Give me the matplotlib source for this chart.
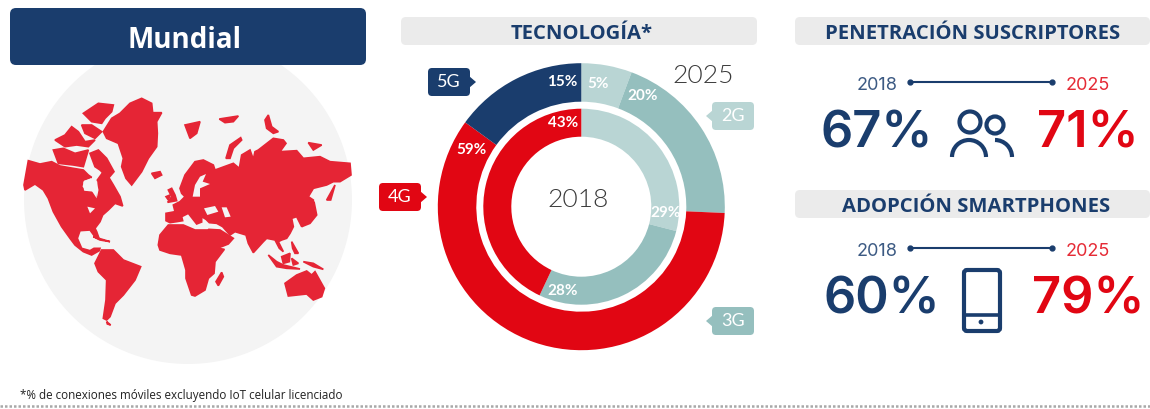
#!/usr/bin/env python3
import matplotlib
matplotlib.use('Agg')
import matplotlib.pyplot as plt
from matplotlib.patches import FancyBboxPatch, Circle, Polygon, Arc

NAVY = '#1a3d6d'
RED = '#e10613'
MAP_RED = '#e52535'
TEAL_LIGHT = '#b9d5d4'
TEAL = '#95bfbe'
PANEL = '#ebebeb'
GLOBE = '#f4f4f4'
YEAR_GREY = '#3a3a3a'

# --- data ---
tech_labels = ['2G', '3G', '4G', '5G']
share_2025 = [5.7, 20, 59.3, 15]
share_2018 = [29, 28, 43]
labels_2025 = ['5%', '20%', '59%', '15%']
labels_2018 = ['29%', '28%', '43%']
years = ['2018', '2025']
subs_pct = ['67%', '71%']
phone_pct = ['60%', '79%']

# world map outlines, traced at 3x from the picture
land = [
    # north america + central america
    [(85,482),(120,492),(155,485),(180,498),(220,505),(250,510),(265,525),(275,532),(250,540),(245,560),(255,575),
     (285,578),(292,600),(298,570),(292,540),(310,515),(325,530),(340,555),(360,590),(368,618),(345,610),(325,630),
     (308,645),(300,665),(285,685),(290,695),(298,718),(286,712),(270,690),(240,692),(232,715),(245,745),(270,752),
     (282,745),(300,745),(298,752),(275,765),(250,755),(225,735),(210,715),(185,680),(160,635),(145,595),(130,570),
     (105,552),(75,570),(72,555)],
    # greenland
    [(310,395),(335,355),(360,340),(390,310),(425,295),(455,310),(458,338),(485,338),(470,365),(472,400),(470,440),
     (445,475),(425,515),(395,555),(378,535),(365,500),(370,475),(355,430),(320,415)],
    # arctic islands
    [(250,340),(295,310),(340,315),(335,335),(315,355),(305,370),(275,365)],
    [(245,375),(275,375),(305,395),(285,415),(255,400)],
    [(165,420),(195,405),(215,380),(235,395),(255,425),(285,420),(265,440),(230,435),(195,440)],
    [(160,450),(190,445),(225,460),(265,450),(250,500),(220,495),(175,490)],
    [(270,460),(295,450),(320,475),(342,515),(325,535),(300,510),(285,500)],
    # south america
    [(285,790),(305,750),(340,750),(370,780),(422,800),(405,840),(370,885),(345,910),(330,950),(320,960),(310,955),
     (318,900),(320,840),(295,815)],
    [(320,965),(332,975),(322,972)],
    # cuba, hispaniola
    [(280,710),(330,725),(300,720)],
    # eurasia
    [(498,662),(498,640),(525,635),(520,615),(540,605),(555,590),(545,580),(540,565),(555,525),(585,485),(610,480),
     (640,495),(645,510),(700,490),(718,505),(725,465),(750,450),(760,478),(765,455),(775,450),(820,415),(850,420),
     (858,430),(840,455),(890,452),(910,475),(960,470),(990,485),(1050,490),(1053,525),(1020,545),(1000,545),(980,555),
     (940,565),(925,590),(940,600),(940,630),(930,650),(905,680),(890,650),(875,655),(880,680),(870,700),(860,715),
     (845,720),(835,725),(850,755),(838,745),(825,720),(800,715),(790,725),(760,758),(745,730),(738,705),(705,695),
     (690,705),(668,680),(650,670),(628,668),(618,658),(605,650),(605,668),(590,645),(600,668),(590,672),(565,640),
     (545,650),(548,662),(530,665),(510,668)],
    # arabia
    [(625,688),(660,690),(700,715),(685,732),(652,745),(635,715)],
    # africa
    [(475,735),(480,705),(505,675),(550,675),(585,690),(625,690),(640,725),(655,745),(673,748),(645,785),(642,820),
     (625,835),(615,870),(585,888),(575,885),(558,835),(558,810),(545,765),(510,760),(480,750)],
    # madagascar, australia, new guinea, borneo, sulawesi, sumatra+java, philippines
    [(665,817),(670,830),(655,857),(648,845)],
    [(855,850),(890,825),(920,813),(935,825),(945,815),(973,865),(965,890),(940,900),(920,882),(865,888)],
    [(910,785),(940,790),(970,808),(940,800)],
    [(845,770),(870,760),(868,785),(850,790)],
    [(875,775),(895,790),(880,795)],
    [(805,765),(830,785),(850,795),(900,807),(860,805),(830,800)],
    [(875,725),(895,760),(885,760),(878,745)],
    # japan, sakhalin, uk, ireland, iceland, svalbard, franz josef, novaya zemlya, severnaya, siberian islands
    [(905,680),(935,645),(942,605),(950,645),(930,670)],
    [(980,600),(1005,555),(992,600)],
    [(515,565),(525,585),(530,602),(503,607),(515,590),(505,570)],
    [(498,590),(510,585),(505,600)],
    [(455,520),(480,515),(485,525),(465,535)],
    [(555,375),(600,365),(590,400),(570,415)],
    [(658,357),(715,348),(700,365),(675,368)],
    [(678,475),(690,435),(722,413),(725,420),(700,445),(690,475)],
    [(795,360),(805,345),(815,380),(835,395),(820,400),(800,385)],
    [(925,428),(965,435),(940,450)],
]
water = [
    [(250,545),(272,535),(292,545),(290,595),(275,572),(252,572)],  # hudson bay
    [(262,620),(285,625),(270,640)],  # great lakes
    [(612,625),(645,618),(655,635),(622,645)],  # black sea
    [(665,622),(680,622),(692,650),(675,652)],  # caspian
    [(578,590),(585,555),(600,530),(618,522),(608,545),(630,552),(600,565),(600,590)],  # baltic
    [(500,565),(498,572),(505,560)],
]

plt.rcParams['font.family'] = 'Open Sans'
fig = plt.figure(figsize=(11.5, 4.09), dpi=100)
ax = fig.add_axes([0, 0, 1, 1])


def panel(x0, y0, x1, y1, color, pad=5):
    ax.add_patch(FancyBboxPatch((x0 + pad, y0 + pad), x1 - x0 - 2*pad, y1 - y0 - 2*pad,
                                boxstyle=f'round,pad={pad}', fc=color, ec='none', mutation_aspect=1))


# --- donut ---
cx, cy = 581.3, 206.7
# y axis is flipped further down, so startangle -90 + counterclock runs clockwise from the top on screen
ax.pie(share_2025, colors=[TEAL_LIGHT, TEAL, RED, NAVY], center=(cx, cy), radius=143.5, startangle=-90,
       wedgeprops=dict(width=38.5))
ax.pie(share_2018, colors=[TEAL_LIGHT, TEAL, RED], center=(cx, cy), radius=98, startangle=-90,
       wedgeprops=dict(width=28))
ax.set_xlim(0, 1150)
ax.set_ylim(409, 0)
ax.set_aspect('auto')
ax.axis('off')

pct_font = dict(color='white', fontweight='bold', fontsize=11, family='Lato', ha='center', va='center')
for txt, x, y in zip(labels_2025, [598, 643, 471, 562], [84, 96, 150, 82]):
    ax.text(x, y, txt, **pct_font)
for txt, x, y in zip(labels_2018, [666, 563, 563], [213, 291, 123]):
    ax.text(x, y, txt, **pct_font)

year_font = dict(color=YEAR_GREY, fontweight=300, fontsize=19, family='Lato', ha='center', va='center')
ax.text(578, 200, years[0], **year_font)
ax.text(703, 76, years[1], **year_font)

# callouts
for name, x0, y0, col, tip in zip(tech_labels, [712, 712, 379, 428], [102, 307, 183, 68],
                                  [TEAL_LIGHT, TEAL, RED, NAVY], ['l', 'l', 'r', 'r']):
    panel(x0, y0, x0 + 42, y0 + 28, col, pad=4)
    ym = y0 + 14
    if tip == 'l':
        ax.add_patch(Polygon([(x0 + 1, ym - 6), (x0 - 6, ym), (x0 + 1, ym + 6)], fc=col, ec='none'))
    else:
        ax.add_patch(Polygon([(x0 + 41, ym - 6), (x0 + 48, ym), (x0 + 41, ym + 6)], fc=col, ec='none'))
    ax.text(x0 + 21, ym, name, color='white', fontsize=13, family='Lato', ha='center', va='center')

# --- left: globe ---
ax.add_patch(Circle((188, 200), 164, fc=GLOBE, ec='none'))
for pts in land:
    ax.add_patch(Polygon([(x/3, y/3) for x, y in pts], fc=MAP_RED, ec=MAP_RED, lw=1.2))
for pts in water:
    ax.add_patch(Polygon([(x/3, y/3) for x, y in pts], fc=GLOBE, ec='none'))
panel(10, 8, 366, 65, NAVY, pad=6)
ax.text(185, 40, 'Mundial', color='white', fontweight='bold', fontsize=20, ha='center', va='center')

# --- headers ---
for x0, x1, y0, txt, xt, fs in [(401, 757, 17, 'TECNOLOGÍA*', 582, 14.6),
                                (795, 1150, 17, 'PENETRACIÓN SUSCRIPTORES', 973, 14.6),
                                (795, 1150, 190, 'ADOPCIÓN SMARTPHONES', 976, 14.6)]:
    panel(x0, y0, x1, y0 + 28, PANEL, pad=5)
    ax.text(xt, y0 + 17, txt, color=NAVY, fontweight='bold', fontsize=fs, ha='center', va='center')

# --- right: stats ---
for ytop, vals, xa, xb in [(83, subs_pct, 877, 1088), (249, phone_pct, 882, 1088)]:
    ax.text(877, ytop + 2, years[0], color=NAVY, fontsize=13, family='Inter', ha='center', va='center', alpha=0.85)
    ax.text(1088, ytop + 2, years[1], color=RED, fontsize=13, family='Inter', ha='center', va='center', alpha=0.85)
    ax.plot([910, 1052], [ytop - 1, ytop - 1], color=NAVY, lw=1.5, marker='o', ms=3.5)
    yv = ytop + 51
    ax.text(xa, yv, vals[0], color=NAVY, fontweight='semibold', fontsize=36.5, family='Inter', ha='center', va='center')
    ax.text(xb, yv, vals[1], color=RED, fontweight='semibold', fontsize=36.5, family='Inter', ha='center', va='center')

# people icon
ax.add_patch(Circle((970, 122), 10.5, fc='none', ec=NAVY, lw=3))
ax.add_patch(Circle((995, 125), 8.5, fc='none', ec=NAVY, lw=3))
ax.add_patch(Arc((969, 157), 34, 34, theta1=180, theta2=360, ec=NAVY, lw=3))
ax.add_patch(Arc((995, 157), 34, 34, theta1=270, theta2=360, ec=NAVY, lw=3))

# phone icon
ax.add_patch(FancyBboxPatch((967, 273), 30, 55, boxstyle='round,pad=3', fc='none', ec=NAVY, lw=3, mutation_aspect=1))
ax.plot([964, 1000], [315, 315], color=NAVY, lw=2.6)
ax.add_patch(Circle((981, 322), 2.4, fc=NAVY, ec='none'))

# --- footer ---
ax.text(20, 395, '*% de conexiones móviles excluyendo IoT celular licenciado', color='#222222', fontsize=8.4,
        ha='left', va='center', family='Open Sans')
ax.plot([0, 1150], [406, 406], color='#a8a8a8', lw=1.8, ls=(0, (1, 0.8)))

fig.savefig('out.png', dpi=100)
